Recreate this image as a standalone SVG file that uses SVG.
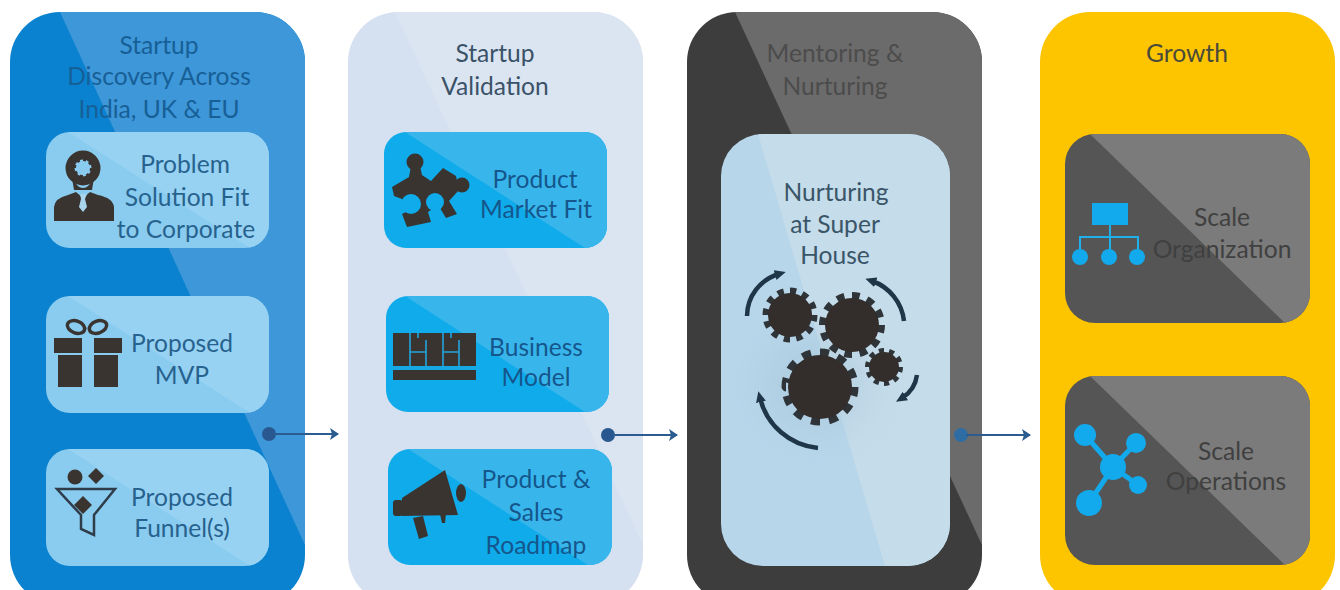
<svg xmlns="http://www.w3.org/2000/svg" width="1340" height="590" viewBox="0 0 1340 590">
<style>
text{font-family:"Lato","Open Sans","Liberation Sans",sans-serif;font-size:24.6px;text-anchor:middle}
.t1{fill:#175f97}.c1{fill:#27628e}.t2{fill:#3a5268}.c2{fill:#15568c}.t3{fill:#4c4c4c}.c3{fill:#3a5568}.t4{fill:#4a4a3a}.c4{fill:#404040}
.ink{fill:#3a3431}.blue{fill:#12aaec}
.conn{stroke:#2b5c8f;stroke-width:2;fill:none;marker-end:url(#arrow)}
.dot{fill:#28588f}
.arc{fill:none;stroke:#1e3648;stroke-width:4.5;marker-end:url(#arcHead)}
.gear{fill:#332e2c}
.teeth{fill:none;stroke:#2f3438;stroke-dasharray:1 1}
</style>
<defs>
<marker id="arrow" markerWidth="10" markerHeight="12" refX="8" refY="6" orient="auto" markerUnits="userSpaceOnUse"><path d="M0 0L9 6L0 12L2 6Z" fill="#2b5c8f"/></marker>
<marker id="arcHead" markerWidth="14" markerHeight="12" refX="4" refY="6" orient="auto" markerUnits="userSpaceOnUse"><path d="M0 1L11 6L0 11Z" fill="#1e3648"/></marker>
<clipPath id="p1"><rect x="10" y="12" width="295" height="593" rx="50"/></clipPath>
<clipPath id="p2"><rect x="348" y="12" width="295" height="593" rx="50"/></clipPath>
<clipPath id="p3"><rect x="687" y="12" width="295" height="593" rx="50"/></clipPath>
<clipPath id="k11"><rect x="46" y="132" width="223" height="116" rx="24"/></clipPath>
<clipPath id="k12"><rect x="46" y="296" width="223" height="117" rx="24"/></clipPath>
<clipPath id="k13"><rect x="46" y="449" width="223" height="117" rx="24"/></clipPath>
<clipPath id="k21"><rect x="384" y="132" width="223" height="116" rx="22"/></clipPath>
<clipPath id="k22"><rect x="386" y="296" width="223" height="116" rx="22"/></clipPath>
<clipPath id="k23"><rect x="388" y="449" width="224" height="116" rx="22"/></clipPath>
<clipPath id="k31"><rect x="721" y="134" width="229" height="432" rx="42"/></clipPath>
<clipPath id="k41"><rect x="1065" y="134" width="245" height="189" rx="30"/></clipPath>
<clipPath id="k42"><rect x="1065" y="376" width="245" height="189" rx="30"/></clipPath>
<filter id="soft" x="-50%" y="-50%" width="200%" height="200%"><feGaussianBlur stdDeviation="18"/></filter>
</defs>
<rect width="1340" height="590" fill="#fff"/>

<g id="panel-discovery">
<rect x="10" y="12" width="295" height="593" rx="50" fill="#0a82cf"/>
<polygon points="60,12 305,545 305,12" fill="#3e97d8" clip-path="url(#p1)"/>
<text class="t1" x="159" y="54">Startup</text>
<text class="t1" x="159" y="85">Discovery Across</text>
<text class="t1" x="159" y="118">India, UK &amp; EU</text>
</g>
<g id="node-problem">
<rect x="46" y="132" width="223" height="116" rx="24" fill="#8accf0"/>
<polygon points="68,132 269,132 269,248 250,248" fill="#97d2f3" clip-path="url(#k11)"/>
<circle cx="83" cy="168" r="13" fill="none" stroke="#3a3431" stroke-width="9"/><circle cx="83" cy="168" r="9" fill="none" stroke="#3a3431" stroke-width="4" stroke-dasharray="1 1" pathLength="16"/>
<path class="ink" d="M72 178Q83 198 94 178L92 190H74Z"/>
<path class="ink" d="M54 221V207Q55 198 68 195L76 192L83 198L90 192L98 195Q113 198 114 207V221Z"/>
<path d="M80 194H87L85 199L87 207L83 212L79 207L81 199Z" fill="#a9d5ee"/>
<text class="c1" x="185" y="173">Problem</text>
<text class="c1" x="187" y="206">Solution Fit</text>
<text class="c1" x="186" y="238">to Corporate</text>
</g>
<g id="node-mvp">
<rect x="46" y="296" width="223" height="117" rx="24" fill="#8accf0"/>
<polygon points="68,296 269,296 269,413 250,413" fill="#97d2f3" clip-path="url(#k12)"/>
<g fill="none" stroke="#3a3431" stroke-width="3.5"><ellipse cx="76" cy="327" rx="9" ry="6" transform="rotate(20 76 327)"/><ellipse cx="98" cy="327" rx="9" ry="6" transform="rotate(-20 98 327)"/></g>
<rect class="ink" x="54" y="338" width="28" height="15"/><rect class="ink" x="94" y="338" width="28" height="15"/>
<rect class="ink" x="58" y="355" width="24" height="32"/><rect class="ink" x="94" y="355" width="24" height="32"/>
<text class="c1" x="182" y="352">Proposed</text>
<text class="c1" x="182" y="384">MVP</text>
</g>
<g id="node-funnel">
<rect x="46" y="449" width="223" height="117" rx="24" fill="#8accf0"/>
<polygon points="68,449 269,449 269,566 250,566" fill="#97d2f3" clip-path="url(#k13)"/>
<circle class="ink" cx="75" cy="477" r="7.5"/><polygon class="ink" points="96,468 104,476 96,484 88,476"/><polygon class="ink" points="83,496 92,505 83,514 74,505"/>
<path d="M57 489H115L94 515V535L81 529V515Z" fill="none" stroke="#2f3d4a" stroke-width="2.5"/>
<text class="c1" x="182" y="506">Proposed</text>
<text class="c1" x="182" y="537">Funnel(s)</text>
</g>

<g id="panel-validation">
<rect x="348" y="12" width="295" height="593" rx="50" fill="#d5e0f0"/>
<polygon points="395,12 643,545 643,12" fill="#dbe5f2" clip-path="url(#p2)"/>
<text class="t2" x="495" y="62">Startup</text>
<text class="t2" x="495" y="95">Validation</text>
</g>
<g id="node-pmf">
<rect x="384" y="132" width="223" height="116" rx="22" fill="#0fabea"/>
<polygon points="405,132 607,132 607,248 585,248" fill="#38b6ec" clip-path="url(#k21)"/>
<circle class="ink" cx="415" cy="162" r="8.5"/><circle class="ink" cx="462" cy="185" r="7.5"/>
<path class="ink" d="M392 187L409 177L411 166H420L422 175L431 181L443 168L456 176L459 190L449 201L457 214L446 218L438 205L428 212L431 222L407 227L402 214L410 210L402 199L394 196Z"/>
<circle cx="411" cy="204" r="10" fill="#0fabea"/><circle cx="435" cy="202" r="9" fill="#0fabea"/>
<text class="c2" x="535" y="188">Product</text>
<text class="c2" x="536" y="218">Market Fit</text>
</g>
<g id="node-bm">
<rect x="386" y="296" width="223" height="116" rx="22" fill="#0fabea"/>
<polygon points="405,296 609,296 609,412 585,412" fill="#38b6ec" clip-path="url(#k22)"/>
<rect class="ink" x="393" y="333" width="83" height="33"/><rect class="ink" x="393" y="370" width="83" height="10"/>
<g stroke="#23a4dc" stroke-width="1.6" fill="none"><path d="M410 333V366M426 340V366M443 333V366M459 340V366M410 352H426M443 352H459M393 368H476M418 333V338M451 333V338"/></g>
<text class="c2" x="536" y="356">Business</text>
<text class="c2" x="536" y="386">Model</text>
</g>
<g id="node-roadmap">
<rect x="388" y="449" width="224" height="116" rx="22" fill="#0fabea"/>
<polygon points="408,449 612,449 612,565 588,565" fill="#38b6ec" clip-path="url(#k23)"/>
<rect class="ink" x="393" y="500" width="10" height="16" rx="3"/>
<polygon class="ink" points="402,498 445,470 458,515 402,516"/>
<ellipse class="ink" cx="461" cy="493" rx="5" ry="9"/>
<polygon class="ink" points="413,518 423,516 428,536 419,539"/>
<polygon class="ink" points="440,514 446,513 445,523 442,523"/>
<text class="c2" x="536" y="488">Product &amp;</text>
<text class="c2" x="536" y="521">Sales</text>
<text class="c2" x="536" y="554">Roadmap</text>
</g>

<g id="panel-mentoring">
<rect x="687" y="12" width="295" height="593" rx="50" fill="#3d3d3d"/>
<polygon points="735,12 982,545 982,12" fill="#6b6b6b" clip-path="url(#p3)"/>
<text class="t3" x="835" y="62">Mentoring &amp;</text>
<text class="t3" x="835" y="95">Nurturing</text>
</g>
<g id="node-nurturing">
<rect x="721" y="134" width="229" height="432" rx="42" fill="#b8d6ea"/>
<polygon points="758,134 950,134 950,566 885,566" fill="#c5dcea" clip-path="url(#k31)"/>
<ellipse cx="815" cy="385" rx="55" ry="50" fill="#9dbdd2" opacity=".3" filter="url(#soft)" clip-path="url(#k31)"/>
<text class="c3" x="836" y="201">Nurturing</text>
<text class="c3" x="835" y="233">at Super</text>
<text class="c3" x="835" y="264">House</text>
<circle class="teeth" cx="790" cy="315" r="24" stroke-width="7" pathLength="24"/><circle class="gear" cx="790" cy="315" r="22"/>
<circle class="teeth" cx="852" cy="325" r="29" stroke-width="8" pathLength="24"/><circle class="gear" cx="852" cy="325" r="27"/>
<circle class="teeth" cx="820" cy="387" r="34" stroke-width="9" pathLength="24"/><circle class="gear" cx="820" cy="387" r="32"/>
<circle class="teeth" cx="884" cy="367" r="16" stroke-width="6" pathLength="20"/><circle class="gear" cx="884" cy="367" r="15"/>
<path class="arc" d="M747 316A44 44 0 0 1 779 274"/>
<path class="arc" d="M904 321A48 48 0 0 0 872 281"/>
<path class="arc" d="M917 375A32 32 0 0 1 902 398"/>
<path class="arc" d="M818 448A66 66 0 0 1 760 398"/>
</g>

<g id="panel-growth">
<rect x="1040" y="12" width="295" height="593" rx="50" fill="#fdc400"/>
<text class="t4" x="1187" y="62">Growth</text>
</g>
<g id="node-org">
<rect x="1065" y="134" width="245" height="189" rx="30" fill="#555555"/>
<polygon points="1090,134 1310,134 1310,323 1285,323" fill="#7b7b7b" clip-path="url(#k41)"/>
<rect class="blue" x="1092" y="203" width="36" height="22"/>
<path d="M1110 225V250M1080 250V237H1138V250" fill="none" stroke="#1fb0ec" stroke-width="2"/>
<circle class="blue" cx="1080" cy="257" r="8"/><circle class="blue" cx="1109" cy="257" r="8"/><circle class="blue" cx="1137" cy="257" r="8"/>
<text class="c4" x="1222" y="226">Scale</text>
<text class="c4" x="1222" y="258">Organization</text>
</g>
<g id="node-ops">
<rect x="1065" y="376" width="245" height="189" rx="30" fill="#555555"/>
<polygon points="1090,376 1310,376 1310,565 1285,565" fill="#7b7b7b" clip-path="url(#k42)"/>
<path d="M1085 435L1113 467L1136 443M1138 485L1113 467L1089 503" fill="none" stroke="#12aaec" stroke-width="5"/>
<circle class="blue" cx="1113" cy="467" r="13"/><circle class="blue" cx="1085" cy="435" r="11"/><circle class="blue" cx="1136" cy="443" r="10"/><circle class="blue" cx="1138" cy="485" r="9"/><circle class="blue" cx="1089" cy="503" r="13"/>
<text class="c4" x="1226" y="460">Scale</text>
<text class="c4" x="1226" y="490">Operations</text>
</g>

<g id="connectors">
<circle class="dot" cx="269" cy="434" r="7"/><path class="conn" d="M274 434H338"/>
<circle class="dot" cx="608" cy="435" r="7"/><path class="conn" d="M613 435H677"/>
<circle class="dot" cx="961" cy="435" r="7" style="fill:#2e6da4"/><path class="conn" d="M966 435H1030"/>
</g>
</svg>
